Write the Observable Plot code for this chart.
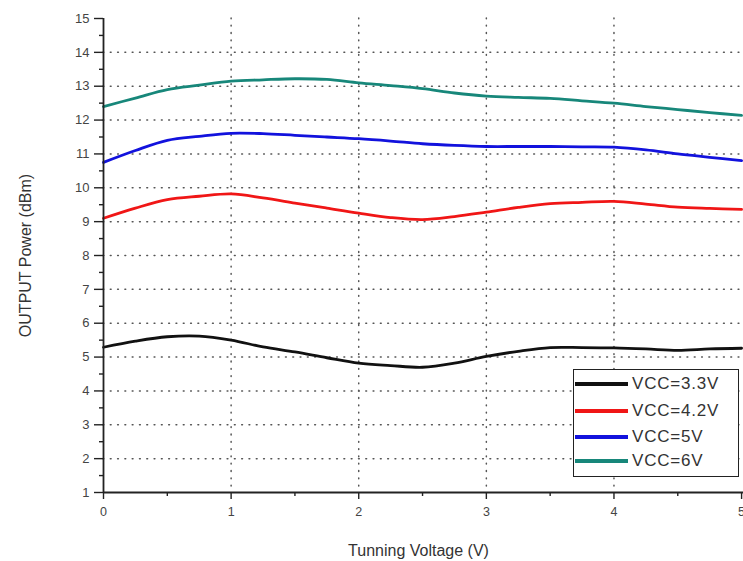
<!DOCTYPE html>
<html>
<head>
<meta charset="utf-8">
<script src="https://cdn.jsdelivr.net/npm/d3@7"></script>
<script src="https://cdn.jsdelivr.net/npm/@observablehq/plot@0.6"></script>
<style>
  html, body { margin: 0; padding: 0; background: #fff; }
  #wrap { position: relative; width: 743px; height: 561px; overflow: hidden; font-family: "Liberation Sans", Arial, sans-serif; }
  #wrap svg g[aria-label="y-axis tick label"] text { font-size: 13px; }
  #wrap svg g[aria-label="x-axis tick label"] text { font-size: 12.5px; }
  #legend { position: absolute; left: 573px; top: 369px; width: 166px; height: 108px; background: #fff; border: 1.5px solid #222; box-sizing: border-box; }
  #legend .row { position: absolute; left: 0; height: 22px; display: flex; align-items: center; }
  #legend .sw { width: 53px; height: 3.5px; margin-left: 1px; }
  #legend .lab { margin-left: 4px; font-size: 17px; letter-spacing: 0.8px; color: #333; }
</style>
</head>
<body>
<div id="wrap"></div>
<script>
const xVals = [0, 0.25, 0.5, 0.75, 1, 1.25, 1.5, 1.75, 2, 2.25, 2.5, 2.75, 3, 3.25, 3.5, 3.75, 4, 4.25, 4.5, 4.75, 5];
const seriesNames = ["VCC=3.3V", "VCC=4.2V", "VCC=5V", "VCC=6V"];
const seriesColors = ["#111111", "#f01616", "#1212dd", "#17877a"];
const vcc33 = [5.29, 5.47, 5.6, 5.62, 5.5, 5.3, 5.15, 4.98, 4.82, 4.75, 4.7, 4.82, 5.02, 5.17, 5.28, 5.28, 5.27, 5.24, 5.2, 5.24, 5.26];
const vcc42 = [9.1, 9.4, 9.65, 9.75, 9.82, 9.7, 9.55, 9.4, 9.25, 9.12, 9.06, 9.15, 9.28, 9.42, 9.53, 9.57, 9.6, 9.52, 9.43, 9.39, 9.36];
const vcc5 = [10.75, 11.1, 11.4, 11.52, 11.61, 11.6, 11.55, 11.5, 11.45, 11.38, 11.3, 11.25, 11.22, 11.22, 11.22, 11.21, 11.2, 11.12, 11.0, 10.9, 10.8];
const vcc6 = [12.4, 12.65, 12.9, 13.03, 13.15, 13.19, 13.22, 13.2, 13.1, 13.02, 12.93, 12.8, 12.71, 12.67, 12.64, 12.57, 12.5, 12.4, 12.31, 12.22, 12.14];
const xTicks = [0, 1, 2, 3, 4, 5];
const xMinorTicks = [0.5, 1.5, 2.5, 3.5, 4.5];
const yTicks = [1, 2, 3, 4, 5, 6, 7, 8, 9, 10, 11, 12, 13, 14, 15];
const yMinorTicks = [1.5, 2.5, 3.5, 4.5, 5.5, 6.5, 7.5, 8.5, 9.5, 10.5, 11.5, 12.5, 13.5, 14.5];
const yGrid = [2, 3, 4, 5, 6, 7, 8, 9, 10, 11, 12, 13, 14];
const xGrid = [1, 2, 3, 4];
const xLabel = "Tunning Voltage (V)";
const yLabel = "OUTPUT Power (dBm)";

const allSeries = [vcc33, vcc42, vcc5, vcc6];
const data = [];
allSeries.forEach((vals, si) => vals.forEach((v, i) => data.push({x: xVals[i], y: v, s: seriesNames[si]})));

const chart = Plot.plot({
  width: 743,
  height: 561,
  marginLeft: 103,
  marginRight: 0,
  marginTop: 18,
  marginBottom: 69,
  style: {fontFamily: "Liberation Sans, Arial, sans-serif", fontSize: "13px", background: "transparent", overflow: "visible"},
  x: {domain: [0, 5.015], ticks: xTicks},
  y: {domain: [1, 15], ticks: yTicks},
  color: {domain: seriesNames, range: seriesColors},
  marks: [
    Plot.ruleY(yGrid, {y: d => d, stroke: "#555", strokeWidth: 1.5, strokeDasharray: "0.8,6.5", strokeLinecap: "round"}),
    Plot.ruleX(xGrid, {x: d => d, stroke: "#555", strokeWidth: 1.5, strokeDasharray: "0.8,6.5", strokeLinecap: "round"}),
    Plot.line(data, {x: "x", y: "y", z: "s", stroke: "s", strokeWidth: 2.8, curve: "catmull-rom"}),
    Plot.axisY(yMinorTicks, {tickSize: 4, text: null, label: null, stroke: "#222", strokeWidth: 1.4}),
    Plot.axisY(yTicks, {tickSize: 9, tickPadding: 5, tickFormat: "d", fill: "#444", label: null, stroke: "#222", strokeWidth: 1.4}),
    Plot.axisX(xMinorTicks, {tickSize: 4, text: null, label: null, stroke: "#222", strokeWidth: 1.4}),
    Plot.axisX(xTicks, {tickSize: 7, tickPadding: 8, tickFormat: "d", fill: "#444", label: null, stroke: "#222", strokeWidth: 1.4}),
    Plot.ruleX([0], {stroke: "#222", strokeWidth: 1.8}),
    Plot.ruleY([1], {stroke: "#222", strokeWidth: 1.8}),
    Plot.text([xLabel], {frameAnchor: "bottom", dy: 58, dx: -5, text: d => d, fontSize: 16, fill: "#333", textAnchor: "middle", lineAnchor: "middle"}),
    Plot.text([yLabel], {frameAnchor: "left", dx: -78, rotate: -90, text: d => d, fontSize: 16, fill: "#333", textAnchor: "middle", lineAnchor: "middle"})
  ]
});

const wrap = document.getElementById("wrap");
wrap.appendChild(chart);

const legend = document.createElement("div");
legend.id = "legend";
const rowTops = [3, 30, 56, 80];
seriesNames.forEach((name, i) => {
  const row = document.createElement("div");
  row.className = "row";
  row.style.top = rowTops[i] + "px";
  const sw = document.createElement("div");
  sw.className = "sw";
  sw.style.background = seriesColors[i];
  const lab = document.createElement("span");
  lab.className = "lab";
  lab.textContent = name;
  row.appendChild(sw);
  row.appendChild(lab);
  legend.appendChild(row);
});
wrap.appendChild(legend);
</script>
</body>
</html>
